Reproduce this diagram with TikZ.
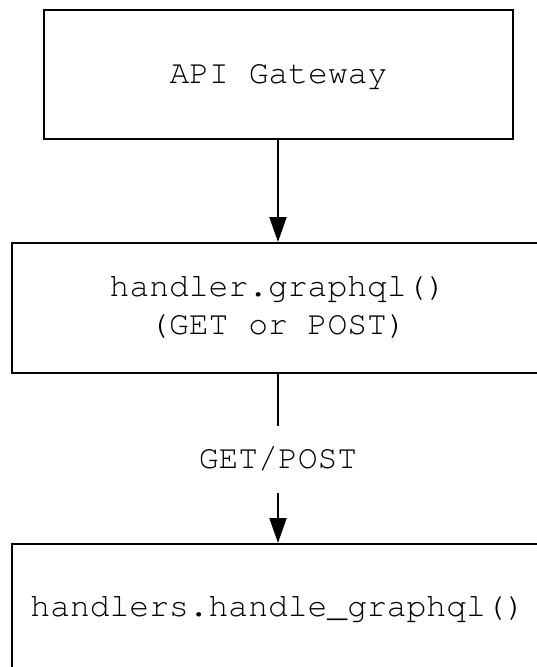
\documentclass[tikz,border=0pt]{standalone}
\usepackage{fontspec}
\setmonofont{texgyrecursor-regular.otf}
\usetikzlibrary{arrows.meta}
\begin{document}
\begin{tikzpicture}[x=1pt,y=1pt,
  boxbase/.style={draw=black, line width=2pt, rectangle, inner sep=0pt, align=center,
    font=\ttfamily\fontsize{33}{38}\selectfont, text=black},
  box/.style={boxbase, text height=18.6pt, text depth=0pt},
  lbl/.style={inner sep=0pt, minimum height=67pt, text height=18.6pt, text depth=0pt,
    font=\ttfamily\fontsize{33}{38}\selectfont, text=black},
  conn/.style={line width=2pt, draw=black},
  tip/.style={-{Triangle[length=25pt,width=17pt]}}]
\useasboundingbox (0,0) rectangle (537,-667);
\clip (0,0) rectangle (537,-667);
\node[box, minimum width=469pt, minimum height=129pt] (gw) at (278.5,-74.5) {API Gateway};
\node[boxbase, minimum width=532pt, minimum height=130pt] (h1) at (278,-308) {handler.graphql()\\(GET or POST)};
\node[box, minimum width=532pt, minimum height=126pt] (h2) at (278,-607) {handlers.handle\_graphql()};
\node[lbl] (gp) at (278,-459.5) {GET/POST};
\draw[conn, tip] (gw.south -| 278,0) -- (h1.north -| 278,0);
\draw[conn] (h1.south -| 278,0) -- (gp.north);
\draw[conn, tip] (gp.south) -- (h2.north -| 278,0);
\end{tikzpicture}
\end{document}
